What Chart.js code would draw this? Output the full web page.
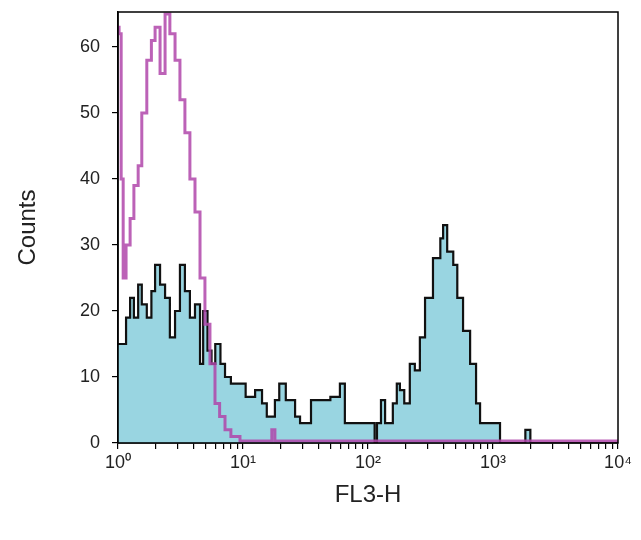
<!DOCTYPE html>
<html>
<head>
<meta charset="utf-8">
<script src="https://cdn.jsdelivr.net/npm/chart.js@4/dist/chart.umd.min.js"></script>
<style>body{margin:0;background:#fff}</style>
</head>
<body>
<canvas id="c" width="641" height="540"></canvas>
<script>
// FL3-H channel (left edge of each step) and counts
const stainX = [1.0, 1.04, 1.16, 1.25, 1.34, 1.45, 1.55, 1.70, 1.85, 1.98, 2.17, 2.38, 2.60, 2.86, 3.13, 3.43, 3.76, 4.13, 4.53, 4.8, 5.2, 5.6, 6.0, 6.6, 7.18, 8.0, 9.46, 10.5, 12.5, 14.2, 15.5, 18.0, 19.5, 22.0, 26.1, 28.6, 31.4, 35.0, 41.3, 50.0, 59.6, 65.3, 71.6, 86.1, 104, 113, 118, 127, 137, 158, 170, 180, 195, 216, 237, 260, 286, 331, 379, 399, 430, 481, 518, 576, 656, 732, 788, 1038, 1138, 1653, 1815, 1990, 10000];
const stainY = [15, 15, 19, 22, 19, 24, 21, 19, 23, 27, 24, 22, 16, 20, 27, 23, 19, 21, 12, 20, 14, 12, 15, 12, 10, 9, 9, 7, 8, 6, 4, 6.5, 9, 6.5, 4, 3, 3, 6.5, 6.5, 7, 9, 3, 3, 3, 3, 0, 3, 6.5, 3, 6, 9, 8, 6, 12, 11, 16, 22, 28, 31, 33, 29, 27, 22, 17, 12, 6, 3, 3, 0, 0, 2, 0, 0];
const isoX = [1.0, 1.02, 1.06, 1.10, 1.16, 1.25, 1.34, 1.45, 1.55, 1.70, 1.85, 1.98, 2.17, 2.38, 2.60, 2.86, 3.13, 3.43, 3.76, 4.13, 4.53, 4.96, 5.44, 5.97, 6.5, 7.18, 8.0, 9.46, 11.4, 17.0, 18.0, 20.0, 10000];
const isoY = [63, 62, 40, 25, 30, 34, 39, 42, 50, 58, 61, 63, 56, 65, 62, 58, 52, 47, 40, 35, 25, 18, 12, 6, 4, 2, 1, 0.3, 0.3, 2, 0.3, 0.3, 0.3];
const yTicks = [0, 10, 20, 30, 40, 50, 60];
const xDecades = [1, 10, 100, 1000, 10000];
const xDecadeLabels = ['10\u2070', '10\u00b9', '10\u00b2', '10\u00b3', '10\u2074'];

const pts = (xs, ys) => xs.map((x, i) => ({ x: x, y: ys[i] }));

const frame = {
    id: 'frame',
    afterDraw(chart) {
        const a = chart.chartArea, ctx = chart.ctx;
        ctx.save();
        ctx.strokeStyle = '#000';
        ctx.lineWidth = 1.5;
        ctx.strokeRect(a.left, a.top, a.right - a.left, a.bottom - a.top);
        ctx.restore();
    }
};

new Chart(document.getElementById('c'), {
    type: 'line',
    data: {
        datasets: [
            {
                data: pts(isoX, isoY),
                stepped: 'before',
                borderColor: 'rgba(176,70,170,0.85)',
                borderWidth: 3,
                pointRadius: 0,
                fill: false,
                order: 0
            },
            {
                data: pts(stainX, stainY),
                stepped: 'before',
                borderColor: '#111',
                borderWidth: 2.2,
                backgroundColor: 'rgba(135,206,220,0.85)',
                pointRadius: 0,
                fill: 'origin',
                order: 1
            }
        ]
    },
    options: {
        responsive: false,
        animation: false,
        layout: { padding: { top: 12, right: 23, left: 10, bottom: 0 } },
        plugins: { legend: { display: false }, tooltip: { enabled: false } },
        scales: {
            x: {
                type: 'logarithmic',
                min: 1, max: 10000,
                afterFit(s) { s.height = 97; s.paddingLeft = 0; s.paddingRight = 0; },
                afterBuildTicks(s) {
                    const t = [];
                    for (let d = 1; d < 10000; d *= 10)
                        for (let m = 1; m < 10; m++) t.push({ value: d * m });
                    t.push({ value: 10000 });
                    s.ticks = t;
                },
                ticks: {
                    autoSkip: false, maxRotation: 0, color: '#222',
                    font: { family: 'Liberation Sans', size: 18 },
                    callback(v) {
                        const i = xDecades.indexOf(v);
                        return i >= 0 ? xDecadeLabels[i] : '';
                    }
                },
                grid: { drawOnChartArea: false, tickLength: 6, color: '#000', lineWidth: 1.2 },
                border: { color: '#000', width: 1.5 },
                title: { display: true, text: 'FL3-H', color: '#222', font: { family: 'Liberation Sans', size: 24 }, padding: { top: 0, bottom: 30 } }
            },
            y: {
                min: 0, max: 65.3,
                afterFit(s) { s.width = 108; s.paddingTop = 0; s.paddingBottom = 0; },
                afterBuildTicks(s) { s.ticks = yTicks.map(v => ({ value: v })); },
                ticks: { color: '#222', font: { family: 'Liberation Sans', size: 18 }, padding: 12 },
                grid: { drawOnChartArea: false, tickLength: 6, color: '#000', lineWidth: 1.2 },
                border: { color: '#000', width: 1.5 },
                title: { display: true, text: 'Counts', color: '#222', font: { family: 'Liberation Sans', size: 24 }, padding: { bottom: 16 } }
            }
        }
    },
    plugins: [frame]
});
</script>
</body>
</html>
